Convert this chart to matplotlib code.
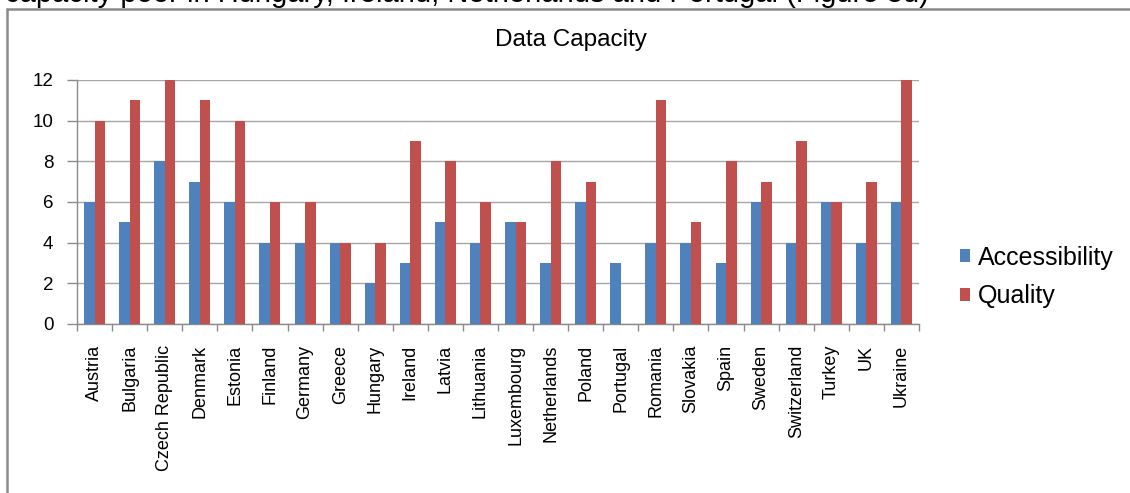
import matplotlib.pyplot as plt
import numpy as np
from matplotlib.patches import Rectangle

plt.rcParams['font.family'] = ['Liberation Sans', 'DejaVu Sans']

countries = ['Austria', 'Bulgaria', 'Czech Republic', 'Denmark', 'Estonia', 'Finland',
             'Germany', 'Greece', 'Hungary', 'Ireland', 'Latvia', 'Lithuania',
             'Luxembourg', 'Netherlands', 'Poland', 'Portugal', 'Romania', 'Slovakia',
             'Spain', 'Sweden', 'Switzerland', 'Turkey', 'UK', 'Ukraine']
accessibility = [6, 5, 8, 7, 6, 4, 4, 4, 2, 3, 5, 4, 5, 3, 6, 3, 4, 4, 3, 6, 4, 6, 4, 6]
quality = [10, 11, 12, 11, 10, 6, 6, 4, 4, 9, 8, 6, 5, 8, 7, 0, 11, 5, 8, 7, 9, 6, 7, 12]
yticks = [0, 2, 4, 6, 8, 10, 12]

W, H = 1130, 493
fig = plt.figure(figsize=(W / 100, H / 100), dpi=100)

# line of body text above the chart frame, cut by the top edge as in the page crop
fig.text(5 / W, 1 - 2 / H, 'capacity poor in Hungary, Ireland, Netherlands and Portugal (Figure 3d)',
         fontsize=21, ha='left', va='baseline', color='black')

# chart frame
fig.patches.append(Rectangle((7 / W, -0.05), 1.1, 1 - 9 / H + 0.05, transform=fig.transFigure,
                             fill=False, edgecolor='#8a8a8a', linewidth=1.8, zorder=0))

ax = fig.add_axes([77 / W, 1 - 324 / H, (919 - 77) / W, (324 - 80) / H])
x = np.arange(len(countries))
bw = 0.3
ax.bar(x - bw / 2, accessibility, bw, color='#4F81BD', label='Accessibility', zorder=3)
ax.bar(x + bw / 2, quality, bw, color='#C0504D', label='Quality', zorder=3)

ax.set_xlim(-0.5, len(countries) - 0.5)
ax.set_ylim(0, 12)
ax.set_yticks(yticks)
ax.grid(axis='y', color='#a6a6a6', linewidth=1, zorder=0)
ax.set_axisbelow(True)

ax.set_xticks(x)
ax.set_xticklabels(countries, rotation=90, fontsize=13)
ax.set_xticks(np.arange(len(countries) + 1) - 0.5, minor=True)
ax.tick_params(axis='x', which='major', length=0, pad=15)
ax.tick_params(axis='x', which='minor', length=5, color='#8a8a8a', width=1)
ax.tick_params(axis='y', length=7, color='#8a8a8a', width=1, labelsize=13.5, pad=10)

for s in ['top', 'right']:
    ax.spines[s].set_visible(False)
for s in ['left', 'bottom']:
    ax.spines[s].set_color('#8a8a8a')
    ax.spines[s].set_linewidth(1)

fig.text(571 / W, 1 - 40 / H, 'Data Capacity', fontsize=17.5, ha='center', va='center')

ax.legend(loc='center left', bbox_to_anchor=(960 / W, 1 - 277 / H), bbox_transform=fig.transFigure,
          frameon=False, fontsize=18, borderaxespad=0, borderpad=0,
          handlelength=0.4, handleheight=0.4, handletextpad=0.3, labelspacing=0.6)

fig.savefig('out.png', dpi=100)
